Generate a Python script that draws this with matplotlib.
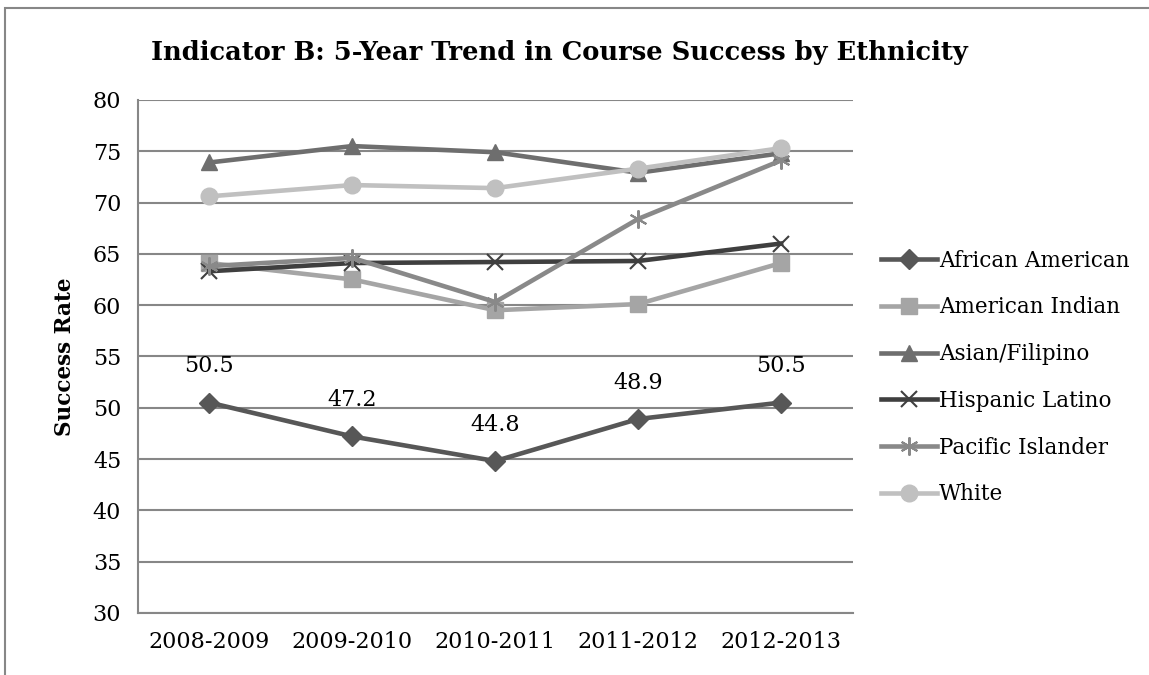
import matplotlib
matplotlib.use("Agg")
import matplotlib.pyplot as plt
from matplotlib.patches import Rectangle

# Values
years = ['2008-2009', '2009-2010', '2010-2011', '2011-2012', '2012-2013']
african_american = [50.5, 47.2, 44.8, 48.9, 50.5]
american_indian = [64.1, 62.5, 59.5, 60.1, 64.1]
asian_filipino = [73.9, 75.5, 74.9, 72.9, 74.8]
hispanic_latino = [63.3, 64.1, 64.2, 64.3, 66.0]
pacific_islander = [63.8, 64.6, 60.3, 68.4, 74.1]
white = [70.6, 71.7, 71.4, 73.3, 75.3]

series = [
    ('African American', african_american, '#575757', 'D', 10),
    ('American Indian', american_indian, '#a5a5a5', 's', 11),
    ('Asian/Filipino', asian_filipino, '#6e6e6e', '^', 11),
    ('Hispanic Latino', hispanic_latino, '#3f3f3f', 'x', 12),
    ('Pacific Islander', pacific_islander, '#898989', (6, 2, 0), 13),
    ('White', white, '#c0c0c0', 'o', 12),
]

font = 'DejaVu Serif'
plt.rcParams['font.family'] = [font]

fig = plt.figure(figsize=(11.49, 6.75), dpi=100)
ax = fig.add_axes([0.120, 0.092, 0.622, 0.760])

x = list(range(len(years)))
for name, vals, color, marker, ms in series:
    mew = 1.5 if marker in ('x', (6, 2, 0)) else 1
    ax.plot(x, vals, color=color, lw=3.3, marker=marker, markersize=ms,
            markeredgewidth=mew, markeredgecolor=color, label=name,
            solid_joinstyle='round', clip_on=False)

for xi, v in zip(x, african_american):
    ax.annotate(f'{v:.1f}', (xi, v), xytext=(0, 26), textcoords='offset points',
                ha='center', va='center', fontsize=16, color='black')

ax.set_xlim(-0.5, len(years) - 0.5)
ax.set_ylim(30, 80)
ax.set_yticks(range(30, 81, 5))
ax.set_xticks(x)
ax.set_xticklabels(years)
ax.tick_params(axis='both', length=0, labelsize=16, colors='black')
ax.tick_params(axis='y', pad=12)
ax.tick_params(axis='x', pad=13)
ax.grid(axis='y', color='#878787', lw=1.5)
ax.set_axisbelow(True)
for side in ('top', 'right'):
    ax.spines[side].set_visible(False)
for side in ('left', 'bottom'):
    ax.spines[side].set_color('#878787')
    ax.spines[side].set_linewidth(1.5)

ax.set_ylabel('Success Rate', fontsize=15.5, fontweight='bold', labelpad=12)
fig.text(0.487, 0.922, 'Indicator B: 5-Year Trend in Course Success by Ethnicity',
         ha='center', va='center', fontsize=18.5, fontweight='bold')

ax.legend(loc='center left', bbox_to_anchor=(1.0, 0.459), frameon=False,
          fontsize=15.5, handlelength=2.6, handletextpad=0.1, labelspacing=1.15,
          borderaxespad=0.9)

# outer chart border (cropped in the reference)
fig.patches.append(Rectangle((5 / 1149, -0.1), 1.2, 1.1 - 8 / 675,
                             transform=fig.transFigure, fill=False,
                             edgecolor='#878787', lw=1.5))

fig.savefig('out.png', dpi=100)
